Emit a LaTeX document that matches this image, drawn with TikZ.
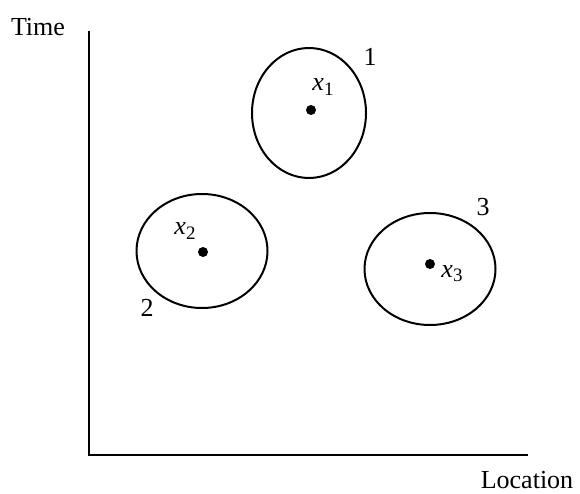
\documentclass[tikz,border=0pt]{standalone}
\usepackage{fontspec}
\setmainfont{Liberation Serif}
\usetikzlibrary{shapes.geometric}
\newcommand{\lbl}[1]{\textit{x}\raisebox{-0.35ex}{\fontsize{19}{19}\selectfont #1}}
\begin{document}
\begin{tikzpicture}[x=1pt,y=-1pt,
  region/.style={draw=black,line width=2pt,ellipse,inner sep=0pt},
  pt/.style={circle,fill=black,inner sep=0pt,minimum size=10pt},
  txt/.style={inner sep=0pt,font=\fontsize{26}{31}\selectfont},
  axis/.style={line width=2pt}]
\useasboundingbox (0,0) rectangle (580,494);
% axes
\coordinate (top) at (89,31);
\coordinate (origin) at (89,455);
\coordinate (right) at (528,455);
\draw[axis] (top) -- (origin) -- (right);
\node[txt] (time) at (38,27) {Time};
\node[txt] (loc) at (527,480) {Location};
% region 1
\node[region,minimum width=114pt,minimum height=130pt] (e1) at (309,113) {};
\node[pt] (p1) at (311,110) {};
\node[txt] (l1) at (323,87) {\lbl{1}};
\node[txt] (n1) at (370,57) {1};
% region 2
\node[region,minimum width=131pt,minimum height=114pt] (e2) at (202,251) {};
\node[pt] (p2) at (203,252) {};
\node[txt] (l2) at (185,231) {\lbl{2}};
\node[txt] (n2) at (147,308) {2};
% region 3
\node[region,minimum width=131pt,minimum height=112pt] (e3) at (430,269) {};
\node[pt] (p3) at (430,264) {};
\node[txt] (l3) at (452,274) {\lbl{3}};
\node[txt] (n3) at (483,207) {3};
\end{tikzpicture}
\end{document}
